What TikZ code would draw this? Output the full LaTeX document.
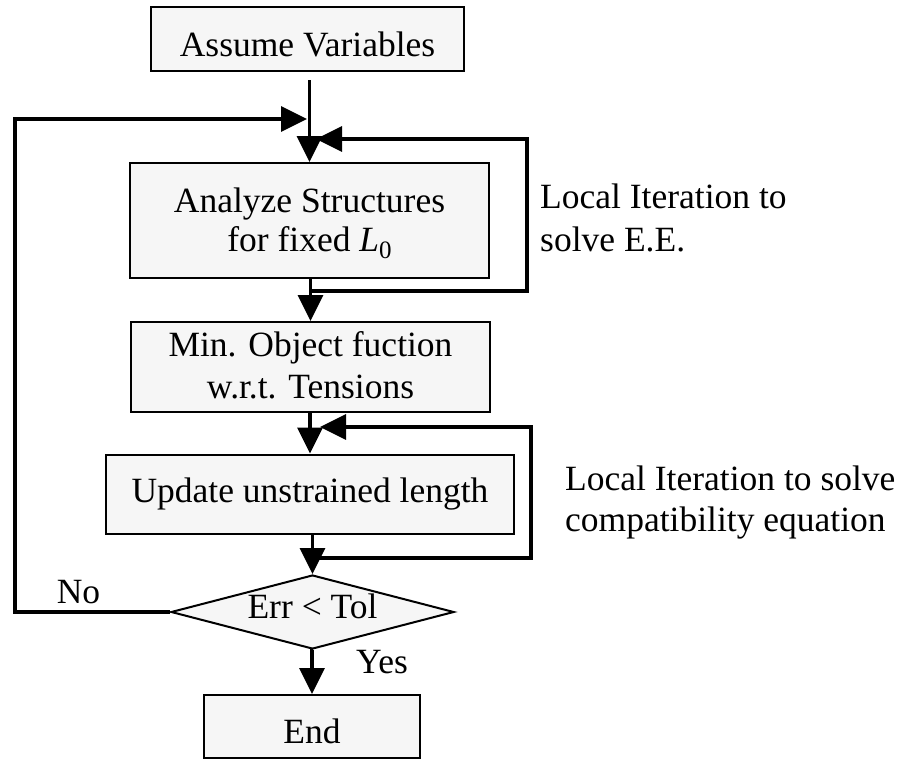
\documentclass[tikz,border=0pt]{standalone}
\usepackage{fontspec}
\setmainfont{Liberation Serif}
\usetikzlibrary{arrows.meta,shapes.geometric}
\definecolor{boxgray}{HTML}{F6F6F6}
% one smashed line whose baseline sits #1 below the node centre
\newcommand{\oneline}[2]{\smash{\raisebox{-#1}{#2}}}
% several smashed centred lines: #1 first baseline below centre, #2 line spacing
\newcommand{\somelines}[3]{\smash{\raisebox{-#1}{\fontsize{35.5}{#2}\selectfont\begin{tabular}[t]{@{}c@{}}#3\end{tabular}}}}
\newcommand{\Lnull}{{\itshape L}\raisebox{-0.2em}{\fontsize{25}{25}\selectfont 0}}
\begin{document}
\begin{tikzpicture}[x=1pt,y=-1pt,
  txt/.style={font=\fontsize{35.5}{43}\selectfont},
  box/.style={txt, draw, line width=2pt, fill=boxgray, inner sep=0pt, align=center},
  decision/.style={txt, draw, line width=2pt, fill=boxgray, diamond, aspect=3.8, inner sep=0pt},
  conn/.style={line width=3.5pt, -{Triangle[length=26pt,width=25pt]}},
  lbl/.style={txt, inner sep=0pt, anchor=base west}]
\useasboundingbox (0,0) rectangle (907,760);

\node[box, minimum width=313pt, minimum height=64pt] (assume) at (307.5,39) {\oneline{17.5pt}{Assume Variables}};
\node[box, minimum width=359pt, minimum height=115pt] (analyze) at (309.5,220.5) {\somelines{-8.5pt}{39pt}{Analyze Structures\\for fixed \Lnull}};
\node[box, minimum width=359pt, minimum height=90pt] (minobj) at (310.5,367) {\somelines{-11pt}{42pt}{Min. Object fuction\\w.r.t. Tensions}};
\node[box, minimum width=408pt, minimum height=79pt] (update) at (310,494) {\oneline{8.5pt}{Update unstrained length}};
\node[decision, minimum width=283pt, minimum height=74pt] (check) at (312.5,612) {\oneline{6pt}{Err < Tol}};
\node[box, minimum width=216pt, minimum height=63pt] (finish) at (312,726.5) {\oneline{16.5pt}{End}};

\node[lbl] (lab1) at (540,208) {\fontsize{35.5}{43}\selectfont\begin{tabular}[t]{@{}l@{}}Local Iteration to\\solve E.E.\end{tabular}};
\node[lbl] (lab2) at (565,490) {\fontsize{35.5}{41}\selectfont\begin{tabular}[t]{@{}l@{}}Local Iteration to solve\\compatibility equation\end{tabular}};
\node[txt, inner sep=0pt, anchor=base] (no) at (78.5,603) {No};
\node[txt, inner sep=0pt, anchor=base] (yes) at (382,673) {Yes};

% junction points
\coordinate (jl) at (307,119);
\coordinate (lx) at (15,0);
\coordinate (t1) at (316,139);
\coordinate (b1) at (311,291);
\coordinate (r1) at (527,0);
\coordinate (t2) at (320,427);
\coordinate (b2) at (311,558);
\coordinate (r2) at (531,0);

% main flow
\draw[conn, shorten <=8pt] (analyze.north |- assume.south) -- (analyze.north);
\draw[conn] (minobj.north |- analyze.south) -- (minobj.north);
\draw[conn] (update.north |- minobj.south) -- (update.north);
\draw[conn] (check.north |- update.south) -- (check.north);
\draw[conn] (check.south) -- (finish.north |- check.south) -- (finish.north);

% outer loop (No)
\draw[conn] (check.west) -- (check.west -| lx) |- (jl);

% local loop 1
\draw[conn] (b1) -- (b1 -| r1) |- (t1);

% local loop 2
\draw[conn] (b2) -- (b2 -| r2) |- (t2);
\end{tikzpicture}
\end{document}
